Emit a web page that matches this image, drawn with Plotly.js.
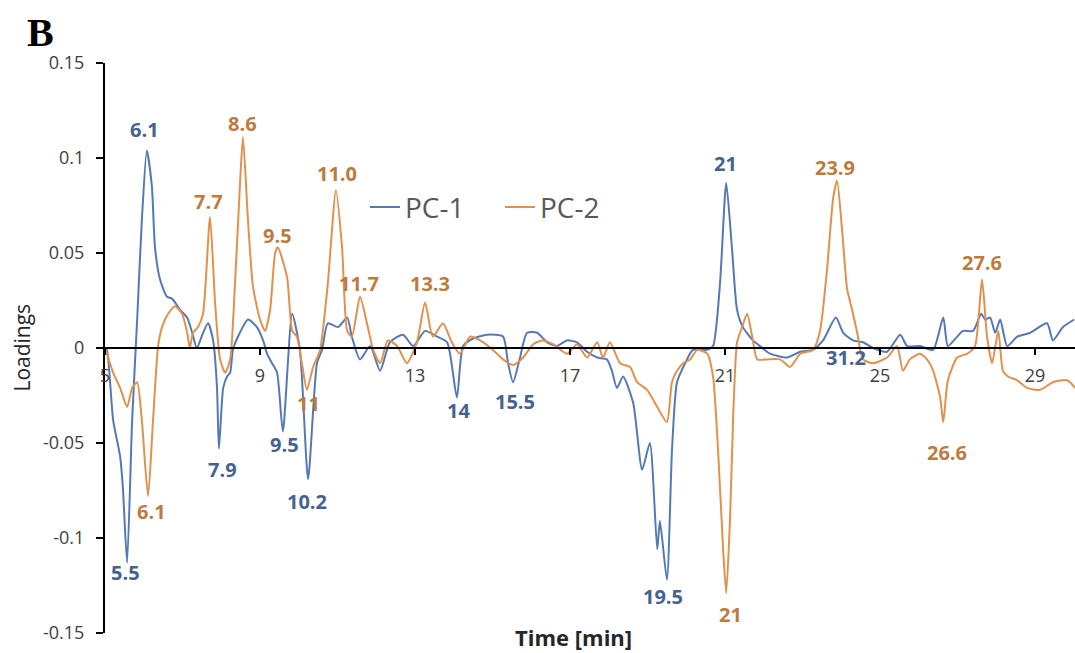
<!DOCTYPE html>
<html>
<head>
<meta charset="utf-8">
<script src="https://cdn.plot.ly/plotly-3.0.1.min.js"></script>
<style>html,body{margin:0;padding:0;background:#fff;}#chart{width:1075px;height:653px;}</style>
</head>
<body>
<div id="chart"></div>
<script>
// PC-1 loadings (time in min, loading)
const pc1Time = [5.00,5.05,5.21,5.39,5.46,5.57,5.70,5.83,5.95,6.08,6.21,6.29,6.42,6.60,6.73,6.94,7.12,7.25,7.37,7.53,7.66,7.79,7.89,7.94,8.05,8.15,8.23,8.30,8.48,8.69,8.92,9.08,9.18,9.31,9.44,9.59,9.83,10.03,10.24,10.47,10.60,10.75,11.01,11.25,11.37,11.58,11.84,12.10,12.35,12.69,12.95,13.26,13.57,13.83,14.08,14.24,14.50,14.86,15.27,15.40,15.53,15.71,15.89,16.15,16.41,16.66,16.92,17.18,17.44,17.70,17.95,18.08,18.21,18.37,18.63,18.86,19.06,19.25,19.32,19.50,19.63,19.76,19.97,20.17,20.54,20.69,20.87,21.03,21.18,21.31,21.46,21.72,21.90,22.16,22.60,22.94,23.27,23.53,23.86,24.05,24.30,24.56,24.82,25.18,25.52,25.70,26.03,26.37,26.63,26.75,26.99,27.14,27.40,27.61,27.71,27.84,27.97,28.10,28.28,28.54,28.87,29.31,29.46,29.72,30.01];
const pc1Load = [0.000,-0.001,-0.038,-0.057,-0.073,-0.113,-0.038,0.015,0.067,0.104,0.085,0.053,0.036,0.027,0.026,0.020,0.016,0.008,0.000,0.008,0.013,0.004,-0.021,-0.053,-0.021,-0.015,-0.013,-0.001,0.008,0.015,0.011,0.004,-0.003,-0.008,-0.013,-0.044,0.018,-0.001,-0.069,-0.008,-0.001,0.013,0.011,0.016,0.006,-0.006,0.001,-0.012,0.003,0.007,0.001,0.009,0.006,0.003,-0.026,0.001,0.005,0.007,0.006,-0.008,-0.018,-0.005,0.008,0.008,0.003,0.001,0.004,0.003,-0.002,-0.005,-0.006,-0.012,-0.021,-0.015,-0.029,-0.064,-0.050,-0.106,-0.091,-0.122,-0.054,-0.018,-0.008,-0.001,-0.001,0.001,0.034,0.087,0.052,0.020,0.011,0.004,0.001,-0.003,-0.005,-0.002,-0.001,0.004,0.016,0.008,0.004,0.003,0.000,-0.002,0.007,0.001,0.001,-0.001,0.016,0.001,0.006,0.009,0.009,0.018,0.015,0.016,0.008,0.015,0.001,0.006,0.008,0.013,0.004,0.011,0.015];

// PC-2 loadings
const pc2Time = [5.00,5.05,5.21,5.39,5.57,5.70,5.83,5.95,6.11,6.24,6.37,6.47,6.63,6.81,6.99,7.12,7.19,7.27,7.40,7.53,7.71,7.84,7.97,8.10,8.23,8.35,8.48,8.56,8.69,8.82,9.00,9.13,9.26,9.39,9.46,9.70,9.83,9.95,10.08,10.21,10.37,10.55,10.75,10.96,11.12,11.25,11.37,11.58,11.76,11.92,12.10,12.30,12.54,12.79,13.05,13.26,13.46,13.72,13.95,14.16,14.42,14.68,15.01,15.27,15.53,15.79,16.05,16.30,16.56,16.92,17.18,17.44,17.70,17.85,18.03,18.29,18.55,18.73,18.99,19.25,19.50,19.63,19.76,19.92,20.10,20.28,20.54,20.69,20.82,20.95,21.03,21.13,21.21,21.31,21.44,21.57,21.70,21.83,22.08,22.42,22.68,22.94,23.27,23.45,23.63,23.79,23.89,24.02,24.15,24.28,24.41,24.56,24.82,25.18,25.44,25.59,25.77,26.03,26.21,26.37,26.55,26.63,26.75,26.99,27.25,27.45,27.63,27.76,27.89,28.05,28.17,28.30,28.54,28.79,29.13,29.46,29.83,30.03];
const pc2Load = [0.000,-0.003,-0.013,-0.021,-0.031,-0.021,-0.018,-0.038,-0.078,-0.038,0.001,0.011,0.018,0.022,0.018,0.008,0.000,0.008,0.011,0.018,0.069,0.024,-0.006,-0.013,-0.006,0.032,0.085,0.111,0.067,0.032,0.015,0.009,0.020,0.050,0.053,0.037,0.009,0.006,-0.008,-0.022,-0.010,-0.001,0.034,0.083,0.052,0.009,0.006,0.027,0.013,-0.001,-0.008,0.004,0.001,-0.008,0.003,0.024,0.006,0.013,0.003,-0.003,0.006,0.004,-0.001,-0.006,-0.009,-0.005,0.002,0.004,0.002,-0.003,0.002,-0.005,0.003,-0.005,0.003,-0.008,-0.010,-0.018,-0.022,-0.031,-0.039,-0.018,-0.012,-0.008,-0.006,-0.001,-0.003,-0.015,-0.054,-0.106,-0.129,-0.089,-0.036,0.003,0.011,0.018,0.006,-0.006,-0.006,-0.006,-0.010,-0.003,-0.001,0.009,0.041,0.079,0.088,0.062,0.031,0.020,0.008,-0.006,-0.008,-0.005,0.001,-0.012,-0.006,-0.003,-0.006,-0.012,-0.026,-0.039,-0.017,-0.005,-0.003,0.001,0.036,0.006,-0.008,0.009,-0.012,-0.015,-0.017,-0.021,-0.022,-0.018,-0.017,-0.021];

// peak labels
const pc1LabelText = ["6.1","5.5","7.9","9.5","10.2","14","15.5","19.5","21","31.2"];
const pc1LabelX = [6.01,5.54,8.02,9.62,10.21,14.11,15.58,19.40,21.00,24.12];
const pc1LabelY = [0.115,-0.118,-0.064,-0.051,-0.081,-0.033,-0.028,-0.131,0.097,-0.005];
const pc2LabelText = ["8.6","7.7","9.5","11.0","11","6.1","11.7","13.3","21","23.9","26.6","27.6"];
const pc2LabelX = [8.54,7.66,9.44,10.99,10.24,6.21,11.55,13.39,21.15,23.84,26.73,27.63];
const pc2LabelY = [0.118,0.077,0.059,0.092,-0.029,-0.086,0.034,0.034,-0.140,0.095,-0.055,0.045];

// axis ticks
const xTickVals = [5,9,13,17,21,25,29];
const xTickText = ["5","9","13","17","21","25","29"];
const yTickVals = [0.15,0.1,0.05,0,-0.05,-0.1,-0.15];
const yTickText = ["0.15","0.1","0.05","0","-0.05","-0.1","-0.15"];

const blue = "#5479b6", orange = "#e0924c";
const blueTxt = "#45638f", orangeTxt = "#bd7b3e";
const fontFam = "Open Sans, sans-serif";

const traces = [
  {x: pc1Time, y: pc1Load, type: "scatter", mode: "lines", name: "PC-1",
   line: {color: blue, width: 2, shape: "spline", smoothing: 0.6}},
  {x: pc2Time, y: pc2Load, type: "scatter", mode: "lines", name: "PC-2",
   line: {color: orange, width: 2, shape: "spline", smoothing: 0.6}}
];

const annotations = [];
pc1LabelText.forEach((t, i) => annotations.push({x: pc1LabelX[i], y: pc1LabelY[i], xref: "x", yref: "y", text: t, showarrow: false,
  xanchor: "center", yanchor: "middle",
  font: {family: fontFam, size: 20, color: blueTxt, weight: "bold"}}));
pc2LabelText.forEach((t, i) => annotations.push({x: pc2LabelX[i], y: pc2LabelY[i], xref: "x", yref: "y", text: t, showarrow: false,
  xanchor: "center", yanchor: "middle",
  font: {family: fontFam, size: 20, color: orangeTxt, weight: "bold"}}));
annotations.push({x: -0.066, y: 1.053, xref: "paper", yref: "paper", xanchor: "center", yanchor: "middle",
  text: "<b>B</b>", showarrow: false,
  font: {family: "Liberation Serif, serif", size: 40, color: "#000"}});
annotations.push({x: 0.4825, y: -0.007, xref: "paper", yref: "paper", xanchor: "center", yanchor: "middle",
  text: "<b>Time [min]</b>", showarrow: false,
  font: {family: fontFam, size: 22, color: "#262626"}});
annotations.push({x: -0.086, y: 0.5, xref: "paper", yref: "paper", xanchor: "center", yanchor: "middle",
  text: "Loadings", showarrow: false, textangle: -90,
  font: {family: fontFam, size: 21, color: "#262626"}});

const layout = {
  width: 1075, height: 653,
  margin: {l: 105, r: 0, t: 63, b: 20, pad: 0},
  paper_bgcolor: "#fff", plot_bgcolor: "#fff",
  showlegend: true,
  legend: {orientation: "h", x: 0.268, y: 0.747, xanchor: "left", yanchor: "middle",
    entrywidth: 90, entrywidthmode: "pixels",
    font: {family: fontFam, size: 28, color: "#595959"}, bgcolor: "rgba(0,0,0,0)"},
  xaxis: {range: [5, 30.03], anchor: "free", position: 0.5, showline: true, linecolor: "#000", linewidth: 2,
    showgrid: false, zeroline: false, ticks: "outside", ticklen: 6, tickwidth: 2, tickcolor: "#000",
    tickvals: xTickVals, ticktext: xTickText, ticklabelstandoff: 5,
    tickfont: {family: fontFam, size: 18, color: "#404040"}},
  yaxis: {range: [-0.15, 0.15], showline: true, linecolor: "#000", linewidth: 2, showgrid: false, zeroline: false,
    ticks: "outside", ticklen: 7, tickwidth: 2, tickcolor: "#000",
    tickvals: yTickVals, ticktext: yTickText, ticklabelstandoff: 8,
    tickfont: {family: fontFam, size: 18, color: "#404040"}},
  annotations: annotations
};

Plotly.newPlot("chart", traces, layout, {staticPlot: true, displayModeBar: false});
</script>
</body>
</html>
